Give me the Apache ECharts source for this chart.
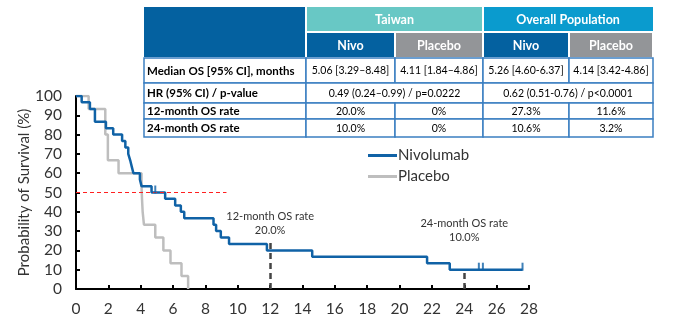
<!DOCTYPE html>
<html>
<head>
<meta charset="utf-8">
<script src="https://cdn.jsdelivr.net/npm/echarts@6/dist/echarts.min.js"></script>
<style>html,body{margin:0;padding:0;background:#fff}#c{width:684px;height:321px}</style>
</head>
<body>
<div id="c"></div>
<script>
// ---- Data ----
const nivoTimes = [0, 0.35, 0.86, 1.17, 1.85, 2.3, 2.85, 3.05, 3.23, 3.35, 3.45, 3.55, 3.95, 4.05, 4.67, 5.51, 6.13, 6.48, 6.69, 8.5, 8.66, 8.95, 9.46, 11.8, 14.6, 21.7, 23.1, 27.6];
const nivoSurv  = [100, 96.7, 93.3, 86.7, 83.3, 80, 76.7, 73.3, 70, 66.7, 63.3, 60, 56.7, 53.3, 50, 46.7, 43.3, 40, 36.7, 33.3, 30, 26.7, 23.3, 20, 16.7, 13.3, 10, 10];
const nivoCensorTimes = [4.9, 24.9, 25.15, 27.6];
const nivoCensorSurv  = [50, 10, 10, 10];
const placeboTimes = [0, 0.78, 1.81, 1.97, 2.63, 4.05, 4.08, 4.12, 4.2, 4.9, 5.4, 5.84, 6.52, 6.93];
const placeboSurv  = [100, 93.3, 80, 66.7, 60, 53.3, 46.7, 40, 33.3, 26.7, 20, 13.3, 6.7, 0];
const xTicks = [0, 2, 4, 6, 8, 10, 12, 14, 16, 18, 20, 22, 24, 26, 28];
const yTicks = [0, 10, 20, 30, 40, 50, 60, 70, 80, 90, 100];
const medianLine = { y: 50, xStart: 0, xEnd: 9.3 };
const landmarkMonths = [12, 24];
const landmarkRates  = ['20.0%', '10.0%'];
const landmarkLineTop = [24.5, 9.2];
const seriesNames = ['Nivolumab', 'Placebo'];

// table texts
const headerGroups = ['Taiwan', 'Overall Population'];
const armLabels = ['Nivo', 'Placebo', 'Nivo', 'Placebo'];
const rowLabels = ['Median OS [95% CI], months', 'HR (95% CI) / p-value', '12-month OS rate', '24-month OS rate'];
const medianOS = ['5.06 [3.29\u20138.48]', '4.11 [1.84\u20134.86]', '5.26 [4.60-6.37]', '4.14 [3.42-4.86]'];
const hrValues = ['0.49 (0.24\u20130.99) / p=0.0222', '0.62 (0.51-0.76) / p<0.0001'];
const os12 = ['20.0%', '0%', '27.3%', '11.6%'];
const os24 = ['10.0%', '0%', '10.6%', '3.2%'];

// ---- Layout ----
const FONT = 'Lato, "Liberation Sans", sans-serif';
const BLUE = '#1062A6';
const GRAY = '#BEBEBE';
const colX = [144, 306, 395, 483, 569, 653];
const rowY = [7, 32, 58, 83, 103, 119, 137];
const BORDER = '#3B7FC1';

const pair = (xs, ys) => xs.map((x, i) => [x, ys[i]]);

const g = [];
function rect(x, y, w, h, fill, stroke, lw) {
  g.push({ type: 'rect', silent: true, z: 10, shape: { x, y, width: w, height: h },
    style: { fill, stroke: stroke || null, lineWidth: lw || 0 } });
}
function txt(t, x, y, opt) {
  g.push({ type: 'text', silent: true, z: 11, style: Object.assign({ text: t, x, y,
    fill: '#000', fontFamily: FONT, fontSize: 11, align: 'center', verticalAlign: 'middle' }, opt || {}) });
}
// header background
rect(colX[0], rowY[0], colX[5] - colX[0], rowY[2] - rowY[0], '#ffffff');
rect(colX[0], rowY[0], colX[1] - colX[0] - 1, rowY[2] - rowY[0] - 1, '#0461A0');
rect(colX[1] + 1, rowY[0], colX[3] - colX[1] - 2, rowY[1] - rowY[0] - 1, '#68C8C5');
rect(colX[3] + 1, rowY[0], colX[5] - colX[3] - 1, rowY[1] - rowY[0] - 1, '#0A9BCE');
const armFill = ['#0461A0', '#939598', '#0461A0', '#939598'];
for (let i = 0; i < 4; i++) {
  rect(colX[i + 1] + 1, rowY[1] + 1, colX[i + 2] - colX[i + 1] - 2, rowY[2] - rowY[1] - 2, armFill[i]);
  txt(armLabels[i], (colX[i + 1] + colX[i + 2]) / 2, (rowY[1] + rowY[2]) / 2 + 1,
    { fill: '#fff', fontWeight: 'bold', fontSize: 12.5 });
}
txt(headerGroups[0], (colX[1] + colX[3]) / 2, (rowY[0] + rowY[1]) / 2, { fill: '#fff', fontWeight: 'bold', fontSize: 12.5 });
txt(headerGroups[1], (colX[3] + colX[5]) / 2, (rowY[0] + rowY[1]) / 2, { fill: '#fff', fontWeight: 'bold', fontSize: 12.5 });
// body
const bodyRows = [medianOS, null, os12, os24];
for (let r = 0; r < 4; r++) {
  const y0 = rowY[r + 2], y1 = rowY[r + 3], cy = (y0 + y1) / 2 + 0.5;
  rect(colX[0], y0, colX[1] - colX[0], y1 - y0, '#fff', BORDER, 1.5);
  txt(rowLabels[r], colX[0] + 3, cy, { align: 'left', fontWeight: 'bold', fontSize: 11.5 });
  if (r === 1) {
    for (let k = 0; k < 2; k++) {
      const a = colX[1 + 2 * k], b = colX[3 + 2 * k];
      rect(a, y0, b - a, y1 - y0, '#fff', BORDER, 1.5);
      txt(hrValues[k], (a + b) / 2, cy, { fontSize: 10.5 });
    }
  } else {
    for (let c = 0; c < 4; c++) {
      const a = colX[c + 1], b = colX[c + 2];
      rect(a, y0, b - a, y1 - y0, '#fff', BORDER, 1.5);
      txt(bodyRows[r][c], (a + b) / 2, cy, { fontSize: 10.5 });
    }
  }
}

// mark lines built from data
const landmarkData = landmarkMonths.map((m, i) => [
  { coord: [m, 0], label: { show: true, position: 'end', distance: i === 0 ? 4 : 27,
      formatter: m + '-month OS rate\n' + landmarkRates[i],
      fontFamily: FONT, fontSize: 11, color: '#333', lineHeight: 14 } },
  { coord: [m, landmarkLineTop[i]] }
]);

const option = {
  animation: false,
  backgroundColor: '#fff',
  textStyle: { fontFamily: FONT },
  grid: { left: 76, right: 155, top: 96, bottom: 32 },
  legend: {
    data: seriesNames.map(n => ({ name: n, icon: 'rect' })),
    orient: 'vertical', left: 363, top: 143,
    itemWidth: 29, itemHeight: 3, itemGap: 6,
    textStyle: { fontFamily: FONT, fontSize: 15, color: '#333', padding: [0, 0, 0, -4] }
  },
  xAxis: {
    type: 'value', min: 0, max: 28, interval: 2,
    axisLine: { onZero: false, lineStyle: { color: '#000', width: 2 } },
    axisTick: { inside: true, length: 4, lineStyle: { color: '#000', width: 2 } },
    axisLabel: { fontSize: 15.5, color: '#333', margin: 12, fontFamily: FONT,
      formatter: v => xTicks.includes(v) ? String(v) : '' },
    splitLine: { show: false }
  },
  yAxis: {
    type: 'value', min: 0, max: 100, interval: 10,
    name: 'Probability of Survival (%)', nameLocation: 'middle', nameGap: 44,
    nameMoveOverlap: false,
    nameTextStyle: { fontSize: 15, color: '#333', fontFamily: FONT },
    axisLine: { onZero: false, lineStyle: { color: '#000', width: 2 } },
    axisTick: { inside: true, length: 4, lineStyle: { color: '#000', width: 2 } },
    axisLabel: { fontSize: 15.5, color: '#333', margin: 14, fontFamily: FONT,
      formatter: v => yTicks.includes(v) ? String(v) : '' },
    splitLine: { show: false }
  },
  series: [
    {
      name: seriesNames[1], type: 'line', step: 'end', data: pair(placeboTimes, placeboSurv),
      showSymbol: false, symbol: 'none', color: GRAY, lineStyle: { color: GRAY, width: 2.5 }, z: 3
    },
    {
      name: seriesNames[0], type: 'line', step: 'end', data: pair(nivoTimes, nivoSurv),
      showSymbol: false, symbol: 'none', color: BLUE, lineStyle: { color: BLUE, width: 2.5 }, z: 4,
      markLine: {
        silent: true, symbol: 'none', animation: false,
        data: [
          [{ coord: [medianLine.xStart, medianLine.y], lineStyle: { color: '#FF2020', width: 1, type: [4, 3] }, label: { show: false } },
           { coord: [medianLine.xEnd, medianLine.y] }]
        ]
      }
    },
    {
      name: 'landmarks', type: 'line', data: [], z: 5,
      markLine: {
        silent: true, symbol: 'none', animation: false,
        lineStyle: { color: '#444', width: 2.5, type: [6, 4] },
        data: landmarkData
      }
    },
    {
      name: 'censor', type: 'scatter', data: pair(nivoCensorTimes, nivoCensorSurv),
      symbol: 'rect', symbolSize: [2, 8], symbolOffset: [0, -3], itemStyle: { color: BLUE }, z: 6
    }
  ],
  graphic: g
};
const chart = echarts.init(document.getElementById('c'), null, { renderer: 'canvas' });
chart.setOption(option);
</script>
</body>
</html>
